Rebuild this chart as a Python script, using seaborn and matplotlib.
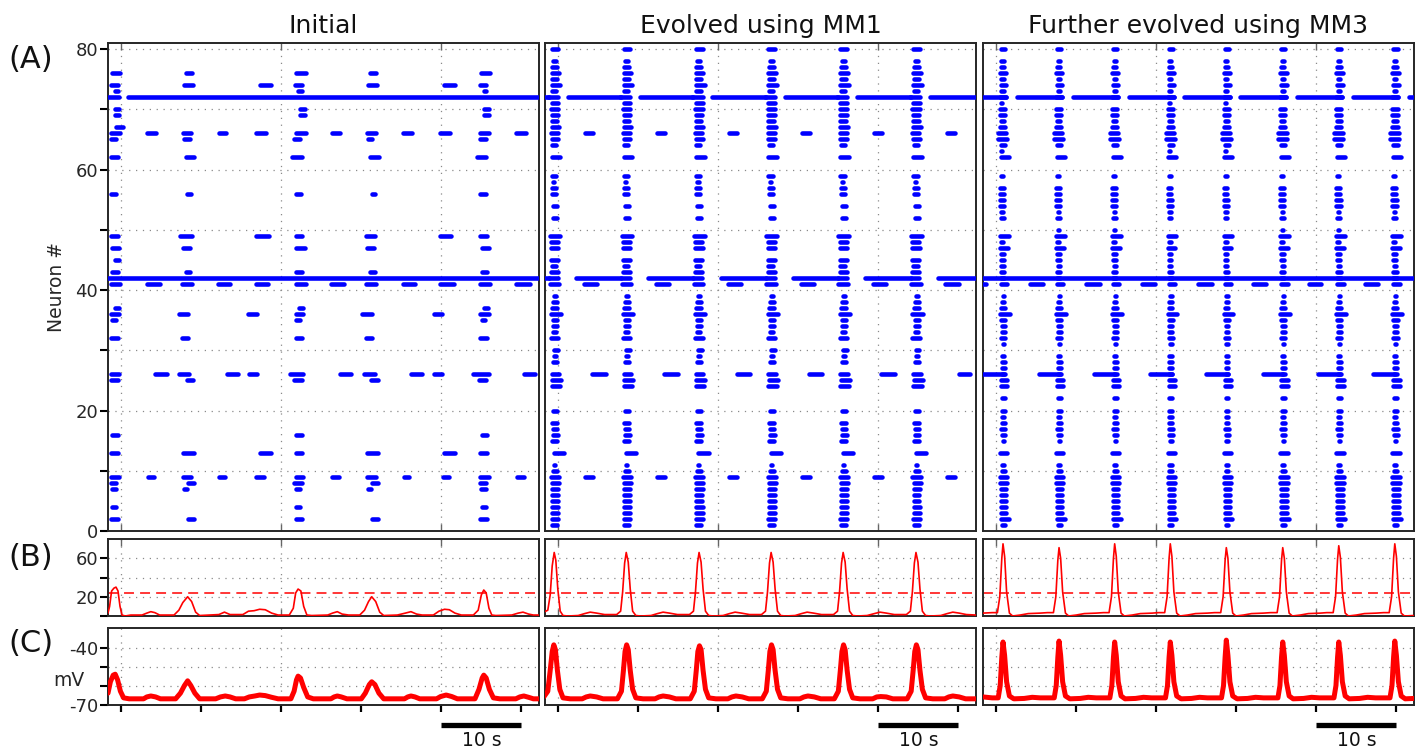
import matplotlib
matplotlib.use("Agg")
import matplotlib.pyplot as plt
import seaborn as sns
import pandas as pd
from matplotlib.transforms import blended_transform_factory
from matplotlib.ticker import FixedLocator, FixedFormatter, NullFormatter

# ============================ DATA ============================
titles = ["Initial", "Evolved using MM1", "Further evolved using MM3"]
row_labels = ["(A)", "(B)", "(C)"]
threshold = 23.5          # dashed line in (B)
scale_bar = (40, 50)      # 10 s bar under (C)
scale_text = "10 s"

# ---- (A) Initial: (neuron, first spike, last spike) of each spike train, s
init_trains = [
    (76, -1.4, 0.1), (76, 7.8, 9.1), (76, 21.6, 23.4), (76, 30.8, 32.1), (76, 44.7, 46.4),
    (74, -1.6, -0.1), (74, 7.6, 9.3), (74, 17.1, 19.0), (74, 21.4, 22.9), (74, 30.6, 32.3), (74, 40.1, 42.0), (74, 44.5, 45.9),
    (73, -1.1, -0.1), (73, 21.8, 22.9), (73, 45.0, 45.9),
    (72, -2.5, 0.0), (72, 0.6, 53.0),
    (70, -1.1, 0.0), (70, 22.0, 23.2), (70, 45.0, 46.2),
    (69, -1.1, 0.0), (69, 22.0, 23.2), (69, 45.0, 46.2),
    (67, -0.9, 0.5),
    (66, -1.5, 0.1), (66, 2.9, 4.6), (66, 7.4, 9.0), (66, 11.9, 13.4), (66, 16.6, 18.4), (66, 21.5, 23.4),
    (66, 26.1, 27.6), (66, 30.4, 32.1), (66, 34.9, 36.6), (66, 39.6, 41.4), (66, 44.6, 46.2), (66, 49.1, 50.9),
    (65, -1.6, -0.4), (65, 7.6, 8.9), (65, 21.3, 22.6), (65, 30.6, 31.6), (65, 44.5, 45.9),
    (62, -1.6, -0.1), (62, 7.8, 9.4), (62, 21.1, 22.9), (62, 30.8, 32.5), (62, 44.2, 45.9),
    (56, -1.6, -0.4), (56, 8.0, 9.0), (56, 21.5, 22.8), (56, 31.0, 32.0), (56, 44.6, 45.8),
    (49, -1.6, -0.1), (49, 7.1, 9.1), (49, 16.5, 18.7), (49, 21.5, 22.9), (49, 30.3, 32.0), (49, 39.5, 41.5), (49, 44.6, 46.0),
    (47, -1.4, 0.0), (47, 7.4, 8.9), (47, 21.6, 23.2), (47, 30.4, 31.9), (47, 44.8, 46.2),
    (45, -1.1, 0.0),
    (43, -1.4, -0.1), (43, 7.8, 8.9), (43, 21.6, 22.9), (43, 30.8, 32.0), (43, 44.8, 46.0),
    (42, -2.5, 53.0),
    (41, -1.6, 0.1), (41, 2.9, 5.1), (41, 7.3, 9.1), (41, 11.8, 13.9), (41, 16.6, 18.6), (41, 21.5, 23.4),
    (41, 25.9, 28.1), (41, 30.3, 32.1), (41, 34.9, 37.0), (41, 39.6, 41.8), (41, 44.5, 46.4), (41, 49.1, 51.3),
    (37, -1.1, 0.0), (37, 21.9, 23.0), (37, 45.0, 46.1),
    (36, -1.5, 0.0), (36, 6.9, 8.6), (36, 15.6, 17.3), (36, 21.5, 23.0), (36, 29.8, 31.6), (36, 38.8, 40.4), (36, 44.6, 46.2),
    (35, -1.4, -0.4), (35, 21.6, 22.6), (35, 44.8, 45.7),
    (32, -1.5, -0.1), (32, 7.3, 8.6), (32, 21.6, 22.9), (32, 30.3, 31.6), (32, 44.6, 46.0),
    (26, -1.6, 0.0), (26, 3.9, 6.0), (26, 7.0, 8.8), (26, 12.9, 14.9), (26, 15.7, 17.3), (26, 20.8, 23.0),
    (26, 27.0, 29.0), (26, 30.0, 32.0), (26, 35.9, 37.8), (26, 38.8, 40.3), (26, 43.7, 46.2), (26, 50.1, 52.0),
    (25, -1.6, -0.1), (25, 7.9, 9.3), (25, 21.3, 22.9), (25, 30.9, 32.4), (25, 44.4, 45.9),
    (16, -1.4, -0.1), (16, 21.6, 22.9), (16, 44.8, 46.0),
    (13, -1.6, -0.1), (13, 7.5, 9.4), (13, 17.1, 19.0), (13, 21.5, 22.9), (13, 30.4, 32.4), (13, 40.1, 42.0), (13, 44.5, 46.0),
    (9, -1.6, 0.0), (9, 3.1, 4.4), (9, 7.4, 9.0), (9, 11.9, 13.3), (9, 16.6, 18.1), (9, 21.5, 23.0),
    (9, 26.1, 27.5), (9, 30.4, 32.1), (9, 35.1, 36.3), (9, 39.9, 41.2), (9, 44.6, 46.2), (9, 49.2, 50.6),
    (8, -1.6, -0.4), (8, 8.1, 9.4), (8, 21.3, 22.9), (8, 31.0, 32.4), (8, 44.5, 45.9),
    (7, -1.4, -0.4), (7, 7.6, 8.5), (7, 21.6, 22.6), (7, 30.6, 31.5), (7, 44.7, 45.8),
    (4, -1.4, -0.4), (4, 21.6, 22.6), (4, 44.8, 45.8),
    (2, -1.5, -0.1), (2, 8.1, 9.4), (2, 21.5, 22.9), (2, 31.0, 32.4), (2, 44.5, 46.0),
]

# ---- (A) Evolved using MM1: population bursts + per-neuron train (on, off) relative to burst
mm1_bursts = [-0.4, 8.6, 17.6, 26.7, 35.7, 44.8]
mm1_neuron = [80, 78, 77, 76, 75, 74, 73, 72, 71, 70,
              69, 68, 67, 66, 65, 64, 63, 62, 61, 59,
              58, 57, 56, 54, 52, 49, 48, 47, 45, 44,
              43, 42, 41, 39, 38, 37, 36, 35, 34, 33,
              32, 30, 29, 28, 27, 26, 25, 24, 22, 20,
              18, 17, 16, 15, 13, 11, 10, 9, 8, 7,
              6, 5, 4, 3, 2, 1]
mm1_on = [-0.71, -0.5, -0.62, -0.71, -0.62, -0.71, -0.62, -1.12, -0.71, -0.83,
          -0.71, -0.71, -0.71, -0.83, -0.71, -0.62, -0.29, -0.71, -0.29, -0.71,
          -0.5, -0.62, -0.62, -0.5, -0.5, -0.96, -0.83, -0.83, -0.83, -0.71,
          -0.83, -1.04, -0.96, -0.42, -0.5, -0.62, -0.83, -0.5, -0.5, -0.5,
          -0.83, -0.42, -0.42, -0.5, -0.29, -0.71, -0.62, -0.71, -0.29, -0.5,
          -0.62, -0.5, -0.5, -0.62, -0.42, -0.42, -0.5, -0.83, -0.62, -0.62,
          -0.62, -0.62, -0.62, -0.62, -0.71, -0.62]
mm1_off = [0.71, 0.42, 0.54, 0.83, 0.54, 0.96, 0.46, 0.71, 0.71, 0.71,
           0.62, 0.54, 0.83, 0.62, 0.71, 0.42, 0.12, 0.96, 0.12, 0.42,
           0.21, 0.42, 0.42, 0.54, 0.54, 0.96, 0.62, 0.71, 0.62, 0.42,
           0.62, 0.62, 0.83, 0.42, 0.54, 0.54, 1.04, 0.54, 0.54, 0.42,
           0.71, 0.62, 0.42, 0.54, 0.29, 0.83, 1.04, 0.92, 0.29, 0.54,
           0.54, 0.54, 0.62, 0.54, 1.46, 0.29, 0.54, 0.83, 0.83, 0.71,
           0.62, 0.62, 0.71, 0.71, 0.71, 0.54]
mm1_extra = [
    (72, -2.5, -0.9), (72, 0.98, 8.1), (72, 9.98, 17.1), (72, 18.98, 26.2), (72, 28.08, 35.2), (72, 37.08, 44.3), (72, 46.18, 53.0),
    (42, -2.5, -0.9), (42, 2.0, 8.1), (42, 11.0, 17.1), (42, 20.0, 26.2), (42, 29.1, 35.2), (42, 38.1, 44.3), (42, 47.2, 53.0),
    (66, 3.1, 4.6), (66, 12.1, 13.6), (66, 21.1, 22.6), (66, 30.2, 31.7), (66, 39.2, 40.7), (66, 48.3, 49.8),
    (41, 2.9, 5.1), (41, 11.9, 14.1), (41, 20.9, 23.1), (41, 30.0, 32.2), (41, 39.0, 41.2), (41, 48.1, 50.3),
    (26, 4.0, 6.2), (26, 13.0, 15.2), (26, 22.0, 24.2), (26, 31.1, 33.3), (26, 40.1, 42.3), (26, 49.8, 51.75),
    (9, 3.1, 4.6), (9, 12.1, 13.6), (9, 21.1, 22.6), (9, 30.2, 31.7), (9, 39.2, 40.7), (9, 48.3, 49.8),
]

# ---- (A) Further evolved using MM3
mm3_bursts = [0.8, 7.8, 14.8, 21.75, 28.75, 35.8, 42.8, 49.8]
mm3_neuron = [80, 78, 77, 76, 75, 74, 73, 72, 71, 70,
              69, 68, 67, 66, 65, 64, 63, 62, 61, 59,
              58, 57, 56, 55, 54, 53, 52, 51, 50, 49,
              48, 47, 46, 45, 44, 43, 42, 41, 39, 38,
              37, 36, 35, 34, 33, 32, 31, 30, 29, 28,
              27, 26, 25, 24, 23, 22, 20, 19, 18, 17,
              16, 15, 13, 12, 11, 10, 9, 8, 7, 6,
              5, 4, 3, 2, 1]
mm3_on = [-0.5, -0.42, -0.5, -0.62, -0.42, -0.5, -0.42, -0.6, -0.42, -0.62,
          -0.62, -0.5, -0.62, -0.83, -0.83, -0.5, -0.42, -0.54, -0.2, -0.5,
          -0.33, -0.62, -0.62, -0.62, -0.62, -0.42, -0.5, -0.2, -0.25, -0.62,
          -0.5, -0.62, -0.5, -0.5, -0.42, -0.5, -0.5, -0.5, -0.29, -0.38,
          -0.5, -0.62, -0.5, -0.38, -0.38, -0.5, -0.29, -0.2, -0.38, -0.38,
          -0.38, -0.38, -0.5, -0.5, -0.2, -0.38, -0.38, -0.38, -0.38, -0.5,
          -0.38, -0.29, -0.62, -0.2, -0.38, -0.38, -0.62, -0.62, -0.5, -0.5,
          -0.5, -0.5, -0.5, -0.5, -0.38]
mm3_off = [0.62, 0.42, 0.5, 0.75, 0.42, 0.75, 0.42, 0.7, 0.21, 0.62,
           0.62, 0.5, 0.62, 0.75, 0.83, 0.62, 0.21, 1.04, 0.2, 0.33,
           0.21, 0.42, 0.42, 0.5, 0.5, 0.33, 0.42, 0.2, 0.2, 1.04,
           0.33, 0.92, 0.42, 0.42, 0.42, 0.5, 0.5, 0.88, 0.46, 0.46,
           0.54, 1.17, 0.62, 0.54, 0.54, 0.62, 0.46, 0.2, 0.46, 0.54,
           0.54, 0.54, 0.88, 0.88, 0.2, 0.54, 0.54, 0.46, 0.54, 0.62,
           0.62, 0.46, 0.88, 0.2, 0.46, 0.54, 0.88, 0.88, 0.75, 0.75,
           0.75, 0.75, 0.75, 1.04, 0.54]
mm3_extra = [
    (72, -2.5, 1.55), (72, 2.26, 8.5), (72, 9.26, 15.5), (72, 16.26, 22.45), (72, 23.21, 29.45),
    (72, 30.21, 36.5), (72, 37.26, 43.5), (72, 44.26, 50.5), (72, 51.26, 53.0),
    (42, -2.5, 53.0),
    (41, -2.5, -0.96), (41, 4.0, 6.1), (41, 10.9, 13.2), (41, 17.9, 20.1), (41, 24.9, 27.2),
    (41, 31.75, 34.0), (41, 38.75, 40.9), (41, 45.8, 48.0),
    (26, -2.5, 1.3), (26, 5.1, 8.2), (26, 12.0, 15.1), (26, 18.96, 22.2), (26, 25.9, 29.2),
    (26, 33.0, 36.1), (26, 39.9, 43.2), (26, 46.8, 50.1),
]

# ---- (B) population rate traces: (time s, value)
rate_init = [(-1.65, 3), (-1.45, 10), (-1.2, 26), (-0.9, 29), (-0.65, 30), (-0.4, 26), (-0.15, 10), (0.1, 1),
             (0.5, 0), (1.2, 1), (2.6, 1), (3.2, 3), (3.7, 4.5), (4.2, 3.5), (4.8, 1), (6.6, 1), (7.2, 6),
             (7.7, 14), (8.3, 20), (8.8, 15), (9.3, 4), (9.8, 0.5), (11.0, 1), (12.2, 1.5), (12.9, 4),
             (13.6, 1.5), (15.2, 1.5), (15.9, 5), (16.6, 5.5), (17.3, 7), (18.0, 6.5), (18.8, 3), (19.6, 1),
             (21.0, 1), (21.5, 8), (21.8, 24), (22.1, 28), (22.45, 26), (22.8, 10), (23.2, 1), (23.8, 0.5),
             (25.8, 1), (26.4, 3), (27.0, 4.5), (27.6, 2), (28.4, 1), (29.8, 1), (30.4, 6), (30.9, 15),
             (31.3, 20), (31.8, 15), (32.3, 4), (32.8, 0.5), (34.5, 1), (35.5, 3), (36.2, 4.5), (36.9, 2),
             (37.6, 1), (39.0, 1), (39.7, 5), (40.4, 7), (41.0, 6.5), (41.7, 3), (42.5, 1), (44.0, 1),
             (44.6, 6), (45.0, 22), (45.3, 27), (45.6, 24), (45.95, 8), (46.3, 1), (46.8, 0.5), (48.8, 1),
             (49.6, 3), (50.2, 4), (50.9, 2), (51.5, 1), (52.2, 1)]
rate_mm1 = [(-1.8, 4), (-1.3, 6), (-1.0, 22), (-0.75, 52), (-0.5, 66), (-0.3, 58), (-0.05, 28), (0.25, 5),
            (0.6, 0.5), (1.2, 0), (2.5, 0.5), (3.3, 2.5), (4.0, 4), (4.8, 3), (5.8, 1.5), (7.3, 1.5),
            (7.8, 5), (8.05, 25), (8.3, 55), (8.5, 66), (8.75, 56), (9.0, 28), (9.3, 5), (9.7, 0.5),
            (10.3, 0), (11.6, 0.5), (12.4, 2.5), (13.1, 4), (13.9, 3), (14.9, 1.5), (16.4, 1.5), (16.9, 5),
            (17.15, 25), (17.4, 55), (17.6, 66), (17.85, 56), (18.1, 28), (18.4, 5), (18.8, 0.5), (19.4, 0),
            (20.6, 0.5), (21.4, 2.5), (22.1, 4), (22.9, 3), (23.9, 1.5), (25.4, 1.5), (25.9, 5), (26.15, 25),
            (26.4, 55), (26.6, 66), (26.85, 56), (27.1, 28), (27.4, 5), (27.8, 0.5), (28.4, 0), (29.6, 0.5),
            (30.4, 2.5), (31.1, 4), (31.9, 3), (32.9, 1.5), (34.4, 1.5), (34.9, 5), (35.15, 25), (35.4, 55),
            (35.6, 66), (35.85, 56), (36.1, 28), (36.4, 5), (36.8, 0.5), (37.4, 0), (38.6, 0.5), (39.5, 2.5),
            (40.2, 4), (41.0, 3), (42.0, 1.5), (43.5, 1.5), (44.0, 5), (44.25, 25), (44.5, 55), (44.7, 66),
            (44.95, 56), (45.2, 28), (45.5, 5), (45.9, 0.5), (46.5, 0), (47.8, 0.5), (48.6, 2.5), (49.3, 4),
            (50.1, 3), (51.0, 1.5), (52.2, 1)]
rate_mm3 = [(-1.65, 3), (-0.5, 3.5), (0.15, 3.5), (0.45, 20), (0.7, 60), (0.85, 75), (1.05, 62), (1.3, 25),
            (1.65, 3), (2.05, 0), (3.0, 1), (4.0, 2.5), (5.5, 3), (6.4, 3.5), (7.15, 3.5), (7.45, 20),
            (7.7, 58), (7.85, 71), (8.05, 60), (8.3, 25), (8.65, 3), (9.05, 0), (10.0, 1), (11.0, 2.5),
            (12.5, 3), (13.4, 3.5), (14.1, 3.5), (14.4, 20), (14.65, 60), (14.8, 75), (15.0, 62), (15.25, 25),
            (15.6, 3), (16.0, 0), (17.0, 1), (18.0, 2.5), (19.5, 3), (20.3, 3.5), (21.05, 3.5), (21.35, 20),
            (21.6, 60), (21.75, 75), (21.95, 62), (22.2, 25), (22.55, 3), (22.95, 0), (23.9, 1), (24.9, 2.5),
            (26.4, 3), (27.3, 3.5), (28.05, 3.5), (28.35, 20), (28.6, 58), (28.75, 71), (28.95, 60), (29.2, 25),
            (29.55, 3), (29.95, 0), (30.9, 1), (31.9, 2.5), (33.4, 3), (34.3, 3.5), (35.1, 3.5), (35.4, 20),
            (35.65, 58), (35.8, 71), (36.0, 60), (36.25, 25), (36.6, 3), (37.0, 0), (38.0, 1), (39.0, 2.5),
            (40.5, 3), (41.3, 3.5), (42.1, 3.5), (42.4, 20), (42.65, 59), (42.8, 73), (43.0, 61), (43.25, 25),
            (43.6, 3), (44.0, 0), (45.0, 1), (46.0, 2.5), (47.5, 3), (48.4, 3.5), (49.1, 3.5), (49.4, 20),
            (49.65, 60), (49.8, 75), (50.0, 62), (50.25, 25), (50.6, 3), (51.0, 0), (52.2, 0.5)]

# ---- (C) membrane potential traces: (time s, mV)
vm_init = [(-1.65, -64), (-1.35, -58), (-1.0, -54.5), (-0.75, -54), (-0.45, -57), (-0.1, -63), (0.3, -66.5),
           (1.0, -67), (2.8, -67), (3.2, -66), (3.7, -65.5), (4.3, -66), (4.9, -67), (6.8, -67), (7.4, -64),
           (7.9, -60), (8.3, -57.5), (8.7, -60), (9.2, -64), (9.8, -67), (11.8, -67), (12.4, -66),
           (13.0, -65.5), (13.6, -66), (14.3, -67), (15.4, -67), (16.0, -66), (16.7, -65.5), (17.3, -65),
           (18.0, -65.3), (18.8, -66.2), (19.6, -67), (21.2, -67), (21.6, -63), (21.9, -57), (22.1, -55),
           (22.4, -56), (22.8, -61), (23.3, -66), (24.0, -67), (26.2, -67), (26.6, -66), (27.0, -65.5),
           (27.5, -66), (28.2, -67), (30.0, -67), (30.5, -64), (31.0, -59.5), (31.3, -58), (31.7, -59.5),
           (32.2, -64), (32.8, -67), (35.4, -67), (35.8, -66), (36.2, -65.5), (36.7, -66), (37.3, -67),
           (39.4, -67), (39.9, -65.8), (40.6, -65), (41.3, -65.8), (42.0, -67), (44.2, -67), (44.7, -62),
           (45.1, -56), (45.3, -54.5), (45.6, -56), (46.0, -62), (46.5, -66.5), (47.3, -67), (49.3, -67),
           (49.8, -66), (50.3, -65.5), (50.9, -66.2), (51.5, -67), (52.2, -67)]
vm_mm1 = [(-1.8, -66), (-1.3, -63), (-1.0, -52), (-0.75, -42), (-0.55, -38.5), (-0.35, -41), (-0.1, -52),
          (0.2, -62), (0.6, -66.5), (1.5, -67), (3.0, -67), (3.5, -66), (4.0, -65.5), (4.8, -66), (5.6, -67),
          (7.4, -67), (7.9, -63), (8.15, -52), (8.35, -42), (8.55, -38.5), (8.75, -41), (9.0, -52), (9.3, -62),
          (9.7, -66.5), (10.6, -67), (12.1, -67), (12.6, -66), (13.1, -65.5), (13.9, -66), (14.7, -67),
          (16.5, -67), (17.0, -63), (17.25, -52), (17.45, -42), (17.65, -39), (17.85, -41), (18.1, -52),
          (18.4, -62), (18.8, -66.5), (19.7, -67), (21.2, -67), (21.7, -66), (22.2, -65.5), (23.0, -66),
          (23.8, -67), (25.5, -67), (26.0, -63), (26.25, -52), (26.45, -42), (26.65, -38.5), (26.85, -41),
          (27.1, -52), (27.4, -62), (27.8, -66.5), (28.7, -67), (30.2, -67), (30.7, -66), (31.2, -65.5),
          (32.0, -66), (32.8, -67), (34.5, -67), (35.0, -63), (35.25, -52), (35.45, -42), (35.65, -38.5),
          (35.85, -41), (36.1, -52), (36.4, -62), (36.8, -66.5), (37.7, -67), (39.3, -67), (39.8, -66),
          (40.3, -65.8), (41.0, -66), (41.8, -67), (43.6, -67), (44.1, -63), (44.35, -52), (44.55, -42),
          (44.75, -38.5), (44.95, -41), (45.2, -52), (45.5, -62), (45.9, -66.5), (46.8, -67), (48.3, -67),
          (48.8, -66), (49.3, -65.5), (50.1, -66), (50.9, -67), (52.2, -67)]
vm_mm3 = [(-1.65, -66), (-0.5, -66.5), (0.25, -66.5), (0.5, -60), (0.7, -45), (0.85, -37), (1.05, -44),
          (1.3, -58), (1.65, -65.5), (2.2, -67), (3.5, -66.8), (4.5, -66.2), (5.5, -66.5), (6.6, -66.5),
          (7.25, -66.5), (7.5, -60), (7.7, -45), (7.85, -36.5), (8.05, -44), (8.3, -58), (8.65, -65.5),
          (9.2, -67), (10.5, -66.8), (11.5, -66.2), (12.5, -66.5), (13.6, -66.5), (14.2, -66.5), (14.45, -60),
          (14.65, -45), (14.8, -37), (15.0, -44), (15.25, -58), (15.6, -65.5), (16.1, -67), (17.4, -66.8),
          (18.4, -66.2), (19.4, -66.5), (20.5, -66.5), (21.15, -66.5), (21.4, -60), (21.6, -45), (21.75, -37),
          (21.95, -44), (22.2, -58), (22.55, -65.5), (23.1, -67), (24.4, -66.8), (25.4, -66.2), (26.4, -66.5),
          (27.5, -66.5), (28.15, -66.5), (28.4, -60), (28.6, -45), (28.75, -36), (28.95, -44), (29.2, -58),
          (29.55, -65.5), (30.1, -67), (31.4, -66.8), (32.4, -66.2), (33.4, -66.5), (34.5, -66.5), (35.2, -66.5),
          (35.45, -60), (35.65, -45), (35.8, -37), (36.0, -44), (36.25, -58), (36.6, -65.5), (37.1, -67),
          (38.4, -66.8), (39.4, -66.2), (40.4, -66.5), (41.5, -66.5), (42.2, -66.5), (42.45, -60), (42.65, -45),
          (42.8, -37), (43.0, -44), (43.25, -58), (43.6, -65.5), (44.1, -67), (45.4, -66.8), (46.4, -66.2),
          (47.4, -66.5), (48.5, -66.5), (49.2, -66.5), (49.45, -60), (49.65, -45), (49.8, -36.5), (50.0, -44),
          (50.25, -58), (50.6, -65.5), (51.1, -67), (52.2, -66.8)]

# ============================ STYLE ============================
sns.set_theme(style="white")
plt.rcParams["font.family"] = ["DejaVu Sans"]
plt.rcParams["axes.unicode_minus"] = False

BLUE, RED, GRIDC, SPINE = "#0000ff", "#ff0000", "#8a8a8a", "#262626"
W, H = 1417, 751
XLIM = (-1.65, 52.2)
COL_LEFT = [108, 545, 983]
COL_W = 431
ROW_PX = {"A": (43, 531), "B": (539, 616), "C": (628, 704.5)}
RASTER_LW = 3.3          # pt
DOT_R = 0.28             # half of a spike dot, in seconds at this scale
TICK_FS = 13

fig = plt.figure(figsize=(W / 100, H / 100), dpi=100)
fig.patch.set_facecolor("white")


def add_ax(col, row):
    top, bot = ROW_PX[row]
    ax = fig.add_axes([COL_LEFT[col] / W, 1 - bot / H, COL_W / W, (bot - top) / H])
    ax.set_facecolor("white")
    for s in ax.spines.values():
        s.set_linewidth(1.4)
        s.set_color(SPINE)
    ax.set_xlim(*XLIM)
    return ax


def dotted_grid(ax, xs, ys):
    for x in xs:
        ax.axvline(x, color=GRIDC, lw=0.9, ls=(0, (1, 4.5)), zorder=0)
    for y in ys:
        ax.axhline(y, color=GRIDC, lw=0.9, ls=(0, (1, 4.5)), zorder=0)


def draw_trains(ax, trains):
    ys, x0, x1 = [], [], []
    for n, s, e in trains:
        a, b = s + DOT_R, e - DOT_R
        if b <= a:
            m = 0.5 * (s + e)
            a, b = m - 0.01, m + 0.01
        ys.append(n); x0.append(a); x1.append(b)
    ax.hlines(ys, x0, x1, colors=BLUE, linewidth=RASTER_LW, capstyle="round", zorder=3)


def burst_table(bursts, neurons, on, off, extra):
    assert len(neurons) == len(on) == len(off)
    rows = [(n, b + a, b + c) for b in bursts for n, a, c in zip(neurons, on, off)]
    return rows + list(extra)


rasters = [init_trains,
           burst_table(mm1_bursts, mm1_neuron, mm1_on, mm1_off, mm1_extra),
           burst_table(mm3_bursts, mm3_neuron, mm3_on, mm3_off, mm3_extra)]
rates = [rate_init, rate_mm1, rate_mm3]
vms = [vm_init, vm_mm1, vm_mm3]

for c in range(3):
    # ---------- (A) raster ----------
    axA = add_ax(c, "A")
    axA.set_ylim(0, 81)
    dotted_grid(axA, [0, 20, 40], range(10, 81, 10))
    draw_trains(axA, rasters[c])
    axA.set_xticks([0, 20, 40])
    axA.tick_params(axis="x", which="major", direction="in", top=True, bottom=True,
                    length=5, width=1.0, color="#666666", labelbottom=False)

    # ---------- (B) rate ----------
    axB = add_ax(c, "B")
    axB.set_ylim(0, 80)
    dotted_grid(axB, [0, 20, 40], [20, 40, 60])
    dfb = pd.DataFrame(rates[c], columns=["t", "rate"])
    sns.lineplot(data=dfb, x="t", y="rate", ax=axB, color=RED, lw=1.2,
                 estimator=None, sort=False, legend=False, zorder=3)
    axB.axhline(threshold, color=RED, lw=1.1, ls=(0, (6.5, 4)), zorder=2)
    axB.set_xticks([0, 20, 40])
    axB.tick_params(axis="x", which="major", direction="in", top=True, bottom=True,
                    length=5, width=1.0, color="#666666", labelbottom=False)

    # ---------- (C) membrane potential ----------
    axC = add_ax(c, "C")
    axC.set_ylim(-70, -29.6)
    dotted_grid(axC, [0, 20, 40], [-60, -50, -40])
    dfc = pd.DataFrame(vms[c], columns=["t", "mV"])
    sns.lineplot(data=dfc, x="t", y="mV", ax=axC, color=RED, lw=3.6,
                 estimator=None, sort=False, legend=False, zorder=3)
    axC.set_xticks(range(0, 51, 10))
    axC.xaxis.set_minor_locator(FixedLocator([0, 20, 40]))
    axC.tick_params(axis="x", which="major", direction="out", top=False, bottom=True,
                    length=5, width=1.6, color="black", labelbottom=False)
    axC.tick_params(axis="x", which="minor", direction="in", top=True, bottom=False,
                    length=5, width=1.0, color="#666666", labelbottom=False)

    tr = blended_transform_factory(axC.transData, axC.transAxes)
    axC.plot(list(scale_bar), [-0.27, -0.27], transform=tr, clip_on=False,
             color="black", lw=3.8, solid_capstyle="butt")
    axC.text(sum(scale_bar) / 2, -0.47, scale_text, transform=tr, ha="center", va="center",
             fontsize=13.5, color="#111111")

    for ax in (axA, axB, axC):
        ax.set_xlabel("")
        ax.set_ylabel("")

    if c == 0:
        axA.set_yticks(range(0, 81, 20))
        axA.set_yticklabels([str(v) for v in range(0, 81, 20)])
        axA.yaxis.set_minor_locator(FixedLocator([10, 30, 50, 70]))
        axB.set_yticks([0, 20, 40, 60])
        axB.set_yticklabels(["", "20", "", "60"])
        axC.set_yticks([-70, -60, -50, -40])
        axC.set_yticklabels(["-70", "", "", "-40"])
        for ax in (axA, axB, axC):
            ax.tick_params(axis="y", which="both", direction="out", left=True, right=False,
                           length=5.5, width=1.5, color="black", labelsize=TICK_FS, pad=1.5)
    else:
        for ax in (axA, axB, axC):
            ax.tick_params(axis="y", which="both", left=False, right=False, labelleft=False)

    fig.text((COL_LEFT[c] + COL_W / 2) / W, 1 - 33 / H, titles[c], ha="center",
             va="baseline", fontsize=18, color="#111111")

# panel letters and axis labels
fig.text(31 / W, 1 - 60 / H, row_labels[0], ha="center", va="center", fontsize=22, color="#111111")
fig.text(31 / W, 1 - 557 / H, row_labels[1], ha="center", va="center", fontsize=22, color="#111111")
fig.text(31 / W, 1 - 644 / H, row_labels[2], ha="center", va="center", fontsize=22, color="#111111")
fig.text(57 / W, 1 - 287 / H, "Neuron #", rotation=90, ha="center", va="center", fontsize=13.5)
fig.text(69 / W, 1 - 680 / H, "mV", ha="center", va="center", fontsize=13.5)

fig.savefig("out.png", dpi=100, facecolor="white")
